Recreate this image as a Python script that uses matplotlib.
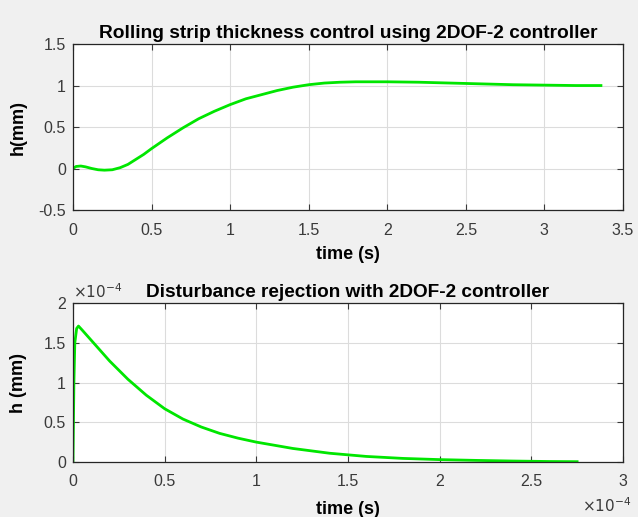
import matplotlib.pyplot as plt
from matplotlib.ticker import FuncFormatter

plt.rcParams['font.family'] = ['Liberation Sans', 'DejaVu Sans']

# thickness response (s, mm)
thk_t = [0, 0.02, 0.05, 0.08, 0.12, 0.16, 0.2, 0.25, 0.3, 0.35, 0.4, 0.45, 0.5,
         0.6, 0.7, 0.8, 0.9, 1.0, 1.1, 1.2, 1.3, 1.4, 1.5, 1.6, 1.7, 1.8, 1.9,
         2.0, 2.2, 2.4, 2.6, 2.8, 3.0, 3.2, 3.36]
thk_h = [0, 0.025, 0.03, 0.02, 0.0, -0.015, -0.02, -0.015, 0.01, 0.05, 0.11, 0.17, 0.24,
         0.37, 0.49, 0.60, 0.69, 0.77, 0.84, 0.89, 0.94, 0.98, 1.01, 1.03, 1.04, 1.045, 1.045,
         1.045, 1.04, 1.03, 1.02, 1.01, 1.005, 1.0, 1.0]

# disturbance response, both axes in units of 1e-4
dist_t = [0, 0.005, 0.01, 0.02, 0.03, 0.05, 0.1, 0.15, 0.2, 0.3, 0.4, 0.5, 0.6, 0.7,
          0.8, 0.9, 1.0, 1.2, 1.4, 1.6, 1.8, 2.0, 2.2, 2.4, 2.6, 2.75]
dist_h = [0, 1.0, 1.5, 1.68, 1.71, 1.66, 1.53, 1.40, 1.27, 1.04, 0.84, 0.67, 0.54, 0.44,
          0.36, 0.30, 0.25, 0.17, 0.11, 0.07, 0.045, 0.03, 0.02, 0.012, 0.006, 0.004]

green = '#00e600'
txt = '#3a3a3a'
fmt = FuncFormatter(lambda v, p: '%g' % v)

fig = plt.figure(figsize=(6.38, 5.17), dpi=100, facecolor='#f0f0f0')
ax1 = fig.add_axes([0.1144, 0.5938, 0.862, 0.321])
ax2 = fig.add_axes([0.1144, 0.1064, 0.862, 0.3075])


def style(ax):
    ax.grid(True, color='#dcdcdc', linewidth=0.8)
    ax.set_axisbelow(True)
    ax.tick_params(direction='in', top=True, right=True, labelsize=11.5,
                   colors=txt, length=4)
    ax.tick_params(axis='x', pad=9)
    ax.tick_params(axis='y', pad=5)
    for s in ax.spines.values():
        s.set_color('#262626')
        s.set_linewidth(0.9)
    ax.xaxis.set_major_formatter(fmt)
    ax.yaxis.set_major_formatter(fmt)


ax1.plot(thk_t, thk_h, color=green, linewidth=2)
ax1.set_xlim(0, 3.5)
ax1.set_ylim(-0.5, 1.5)
ax1.set_xticks([0, 0.5, 1, 1.5, 2, 2.5, 3, 3.5])
ax1.set_yticks([-0.5, 0, 0.5, 1, 1.5])
style(ax1)
ax1.set_title('Rolling strip thickness control using 2DOF-2 controller',
              fontsize=13.8, fontweight='bold', color='black', pad=4)
ax1.set_xlabel('time (s)', fontsize=13, fontweight='bold')
ax1.set_ylabel('h(mm)', fontsize=13, fontweight='bold')
ax1.xaxis.set_label_coords(0.5, -0.217)
ax1.yaxis.set_label_coords(-0.0836, 0.5)

ax2.plot(dist_t, dist_h, color=green, linewidth=2)
ax2.set_xlim(0, 3)
ax2.set_ylim(0, 2)
ax2.set_xticks([0, 0.5, 1, 1.5, 2, 2.5, 3])
ax2.set_yticks([0, 0.5, 1, 1.5, 2])
style(ax2)
ax2.set_title('Disturbance rejection with 2DOF-2 controller',
              fontsize=13.7, fontweight='bold', color='black', pad=4)
ax2.set_xlabel('time (s)', fontsize=13, fontweight='bold')
ax2.set_ylabel('h (mm)', fontsize=13, fontweight='bold')
ax2.xaxis.set_label_coords(0.5, -0.245)
ax2.yaxis.set_label_coords(-0.0836, 0.5)
ax2.text(0.0, 1.01, r'$\times10^{-4}$', transform=ax2.transAxes, fontsize=11,
         color=txt, ha='left', va='bottom')
ax2.text(1.015, -0.215, r'$\times10^{-4}$', transform=ax2.transAxes, fontsize=11,
         color=txt, ha='right', va='top')

fig.savefig('out.png', dpi=100, facecolor=fig.get_facecolor())
